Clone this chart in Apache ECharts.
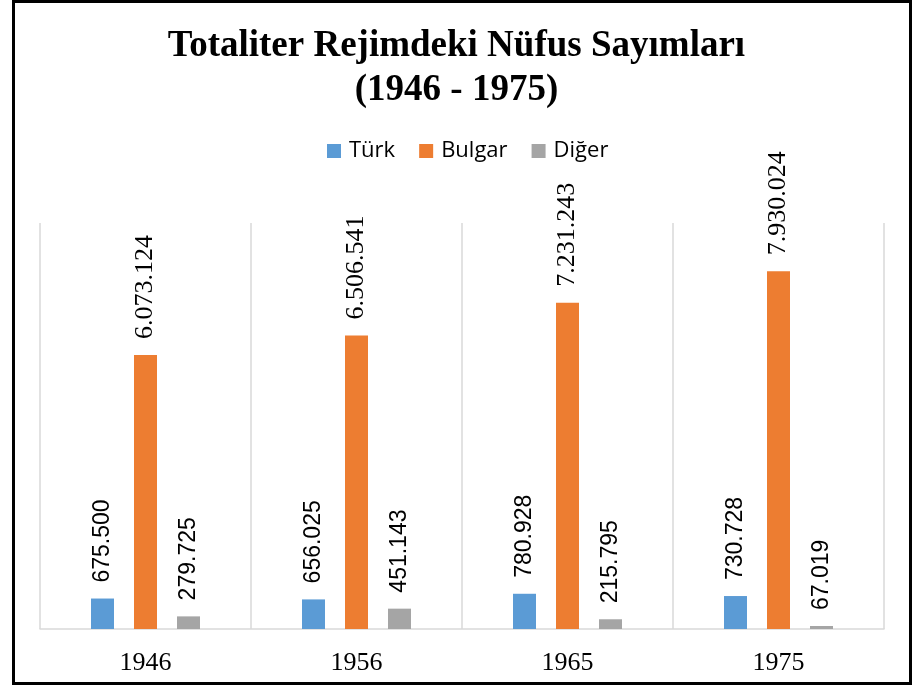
<!DOCTYPE html>
<html>
<head>
<meta charset="utf-8">
<script src="https://cdn.jsdelivr.net/npm/echarts@6/dist/echarts.min.js"></script>
<style>
html,body{margin:0;padding:0;background:#fff;}
#chart{width:913px;height:686px;}
</style>
</head>
<body>
<div id="chart"></div>
<script>
var titleText = 'Totaliter Rejimdeki Nüfus Sayımları\n(1946 - 1975)';
var categories = ['1946', '1956', '1965', '1975'];
var seriesNames = ['Türk', 'Bulgar', 'Diğer'];
var turkValues = [675500, 656025, 780928, 730728];
var bulgarValues = [6073124, 6506541, 7231243, 7930024];
var digerValues = [279725, 451143, 215795, 67019];

function fmt(p) {
  return String(p.value).replace(/\B(?=(\d{3})+(?!\d))/g, '.');
}

function lbl(family, size) {
  return {
    show: true,
    position: 'top',
    distance: 16,
    rotate: 90,
    align: 'left',
    verticalAlign: 'middle',
    fontFamily: family,
    fontSize: size,
    color: '#000',
    formatter: fmt
  };
}

var chart = echarts.init(document.getElementById('chart'), null, {renderer: 'canvas'});
chart.setOption({
  backgroundColor: '#fff',
  animation: false,
  title: {
    text: titleText,
    left: 'center',
    top: 19,
    textStyle: {
      fontFamily: 'Liberation Serif',
      fontWeight: 'bold',
      fontSize: 37,
      lineHeight: 44,
      color: '#000'
    }
  },
  legend: {
    data: seriesNames,
    top: 135,
    left: 322,
    icon: 'rect',
    itemWidth: 14,
    itemHeight: 14,
    itemGap: 24,
    textStyle: {
      fontFamily: 'Open Sans',
      fontSize: 22,
      color: '#000',
      padding: [0, 0, 0, 3]
    }
  },
  grid: {
    left: 40,
    right: 29,
    top: 223,
    bottom: 57
  },
  xAxis: {
    type: 'category',
    data: categories,
    axisLine: {show: true, lineStyle: {color: '#d9d9d9', width: 1.5}},
    axisTick: {show: false},
    splitLine: {show: true, lineStyle: {color: '#d9d9d9', width: 1.5}},
    axisLabel: {
      fontFamily: 'Liberation Serif',
      fontSize: 26,
      color: '#000',
      margin: 21
    }
  },
  yAxis: {
    type: 'value',
    min: 0,
    max: 9000000,
    interval: 1000000,
    show: false,
    splitLine: {show: false}
  },
  series: [
    {
      name: seriesNames[0],
      type: 'bar',
      data: turkValues,
      barWidth: 23,
      barGap: '87%',
      itemStyle: {color: '#5b9bd5'},
      label: lbl('Liberation Sans', 23)
    },
    {
      name: seriesNames[1],
      type: 'bar',
      data: bulgarValues,
      barWidth: 23,
      barGap: '87%',
      itemStyle: {color: '#ed7d31'},
      label: lbl('Liberation Serif', 26)
    },
    {
      name: seriesNames[2],
      type: 'bar',
      data: digerValues,
      barWidth: 23,
      barGap: '87%',
      itemStyle: {color: '#a5a5a5'},
      label: lbl('Liberation Sans', 23)
    }
  ],
  graphic: [
    {
      type: 'rect',
      shape: {x: 13.5, y: 1.5, width: 897, height: 682},
      style: {fill: 'none', stroke: '#000', lineWidth: 3},
      silent: true
    }
  ]
});
</script>
</body>
</html>
